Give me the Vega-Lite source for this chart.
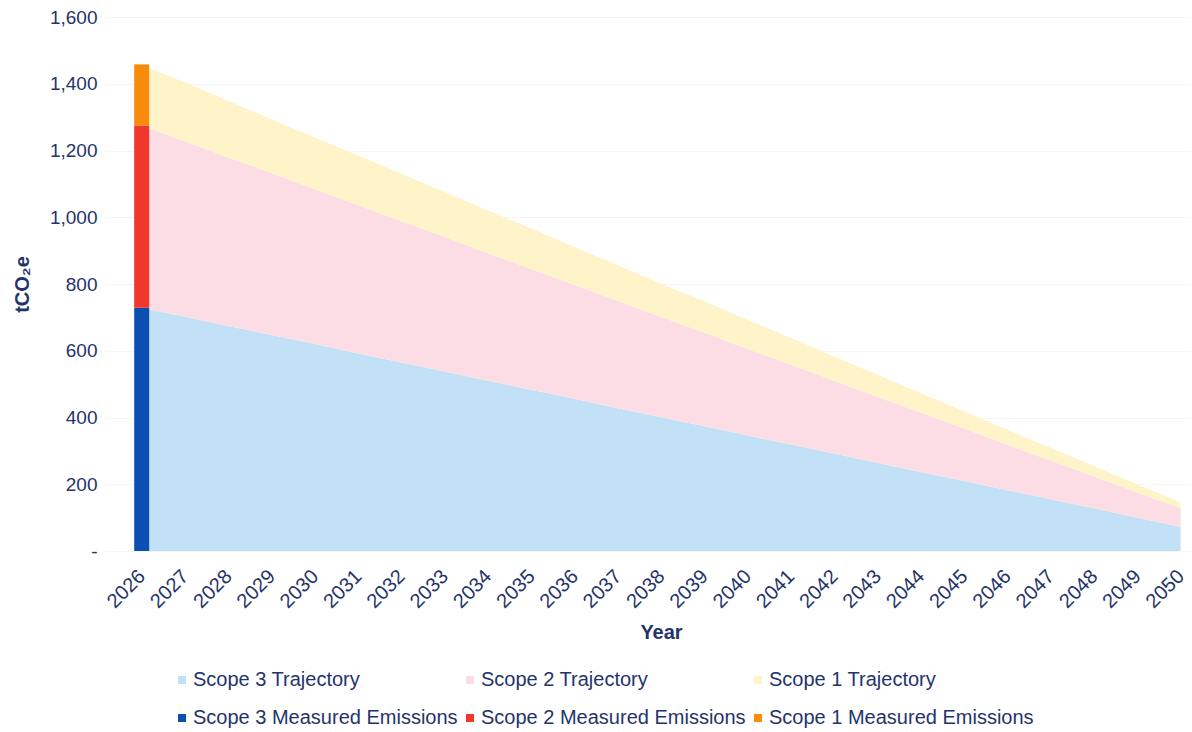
{
  "$schema": "https://vega.github.io/schema/vega-lite/v6.json",
  "autosize": {"type": "none"},
  "padding": {"left": 105, "top": 17, "right": 2, "bottom": 181},
  "width": 1085,
  "height": 534,
  "background": "white",
  "config": {
    "font": "Liberation Sans",
    "view": {"stroke": null},
    "axis": {"labelColor": "#24346a", "titleColor": "#24346a", "labelFont": "Liberation Sans", "titleFont": "Liberation Sans"},
    "legend": {"labelColor": "#24346a", "labelFont": "Liberation Sans"}
  },
  "datasets": {
    "traj": [
      {"year": 2026, "series": "Scope 3 Trajectory", "ord": 1, "value": 729},
      {"year": 2027, "series": "Scope 3 Trajectory", "ord": 1, "value": 702},
      {"year": 2028, "series": "Scope 3 Trajectory", "ord": 1, "value": 674},
      {"year": 2029, "series": "Scope 3 Trajectory", "ord": 1, "value": 647},
      {"year": 2030, "series": "Scope 3 Trajectory", "ord": 1, "value": 620},
      {"year": 2031, "series": "Scope 3 Trajectory", "ord": 1, "value": 592},
      {"year": 2032, "series": "Scope 3 Trajectory", "ord": 1, "value": 565},
      {"year": 2033, "series": "Scope 3 Trajectory", "ord": 1, "value": 538},
      {"year": 2034, "series": "Scope 3 Trajectory", "ord": 1, "value": 510},
      {"year": 2035, "series": "Scope 3 Trajectory", "ord": 1, "value": 483},
      {"year": 2036, "series": "Scope 3 Trajectory", "ord": 1, "value": 456},
      {"year": 2037, "series": "Scope 3 Trajectory", "ord": 1, "value": 428},
      {"year": 2038, "series": "Scope 3 Trajectory", "ord": 1, "value": 401},
      {"year": 2039, "series": "Scope 3 Trajectory", "ord": 1, "value": 374},
      {"year": 2040, "series": "Scope 3 Trajectory", "ord": 1, "value": 346},
      {"year": 2041, "series": "Scope 3 Trajectory", "ord": 1, "value": 319},
      {"year": 2042, "series": "Scope 3 Trajectory", "ord": 1, "value": 292},
      {"year": 2043, "series": "Scope 3 Trajectory", "ord": 1, "value": 264},
      {"year": 2044, "series": "Scope 3 Trajectory", "ord": 1, "value": 237},
      {"year": 2045, "series": "Scope 3 Trajectory", "ord": 1, "value": 210},
      {"year": 2046, "series": "Scope 3 Trajectory", "ord": 1, "value": 182},
      {"year": 2047, "series": "Scope 3 Trajectory", "ord": 1, "value": 155},
      {"year": 2048, "series": "Scope 3 Trajectory", "ord": 1, "value": 128},
      {"year": 2049, "series": "Scope 3 Trajectory", "ord": 1, "value": 100},
      {"year": 2050, "series": "Scope 3 Trajectory", "ord": 1, "value": 73},
      {"year": 2026, "series": "Scope 2 Trajectory", "ord": 2, "value": 546},
      {"year": 2027, "series": "Scope 2 Trajectory", "ord": 2, "value": 526},
      {"year": 2028, "series": "Scope 2 Trajectory", "ord": 2, "value": 505},
      {"year": 2029, "series": "Scope 2 Trajectory", "ord": 2, "value": 485},
      {"year": 2030, "series": "Scope 2 Trajectory", "ord": 2, "value": 464},
      {"year": 2031, "series": "Scope 2 Trajectory", "ord": 2, "value": 444},
      {"year": 2032, "series": "Scope 2 Trajectory", "ord": 2, "value": 423},
      {"year": 2033, "series": "Scope 2 Trajectory", "ord": 2, "value": 403},
      {"year": 2034, "series": "Scope 2 Trajectory", "ord": 2, "value": 382},
      {"year": 2035, "series": "Scope 2 Trajectory", "ord": 2, "value": 362},
      {"year": 2036, "series": "Scope 2 Trajectory", "ord": 2, "value": 341},
      {"year": 2037, "series": "Scope 2 Trajectory", "ord": 2, "value": 321},
      {"year": 2038, "series": "Scope 2 Trajectory", "ord": 2, "value": 300},
      {"year": 2039, "series": "Scope 2 Trajectory", "ord": 2, "value": 280},
      {"year": 2040, "series": "Scope 2 Trajectory", "ord": 2, "value": 259},
      {"year": 2041, "series": "Scope 2 Trajectory", "ord": 2, "value": 239},
      {"year": 2042, "series": "Scope 2 Trajectory", "ord": 2, "value": 218},
      {"year": 2043, "series": "Scope 2 Trajectory", "ord": 2, "value": 198},
      {"year": 2044, "series": "Scope 2 Trajectory", "ord": 2, "value": 177},
      {"year": 2045, "series": "Scope 2 Trajectory", "ord": 2, "value": 157},
      {"year": 2046, "series": "Scope 2 Trajectory", "ord": 2, "value": 136},
      {"year": 2047, "series": "Scope 2 Trajectory", "ord": 2, "value": 116},
      {"year": 2048, "series": "Scope 2 Trajectory", "ord": 2, "value": 95},
      {"year": 2049, "series": "Scope 2 Trajectory", "ord": 2, "value": 75},
      {"year": 2050, "series": "Scope 2 Trajectory", "ord": 2, "value": 55},
      {"year": 2026, "series": "Scope 1 Trajectory", "ord": 3, "value": 183},
      {"year": 2027, "series": "Scope 1 Trajectory", "ord": 3, "value": 176},
      {"year": 2028, "series": "Scope 1 Trajectory", "ord": 3, "value": 169},
      {"year": 2029, "series": "Scope 1 Trajectory", "ord": 3, "value": 162},
      {"year": 2030, "series": "Scope 1 Trajectory", "ord": 3, "value": 155},
      {"year": 2031, "series": "Scope 1 Trajectory", "ord": 3, "value": 149},
      {"year": 2032, "series": "Scope 1 Trajectory", "ord": 3, "value": 142},
      {"year": 2033, "series": "Scope 1 Trajectory", "ord": 3, "value": 135},
      {"year": 2034, "series": "Scope 1 Trajectory", "ord": 3, "value": 128},
      {"year": 2035, "series": "Scope 1 Trajectory", "ord": 3, "value": 121},
      {"year": 2036, "series": "Scope 1 Trajectory", "ord": 3, "value": 114},
      {"year": 2037, "series": "Scope 1 Trajectory", "ord": 3, "value": 107},
      {"year": 2038, "series": "Scope 1 Trajectory", "ord": 3, "value": 100},
      {"year": 2039, "series": "Scope 1 Trajectory", "ord": 3, "value": 94},
      {"year": 2040, "series": "Scope 1 Trajectory", "ord": 3, "value": 87},
      {"year": 2041, "series": "Scope 1 Trajectory", "ord": 3, "value": 80},
      {"year": 2042, "series": "Scope 1 Trajectory", "ord": 3, "value": 73},
      {"year": 2043, "series": "Scope 1 Trajectory", "ord": 3, "value": 66},
      {"year": 2044, "series": "Scope 1 Trajectory", "ord": 3, "value": 59},
      {"year": 2045, "series": "Scope 1 Trajectory", "ord": 3, "value": 52},
      {"year": 2046, "series": "Scope 1 Trajectory", "ord": 3, "value": 45},
      {"year": 2047, "series": "Scope 1 Trajectory", "ord": 3, "value": 38},
      {"year": 2048, "series": "Scope 1 Trajectory", "ord": 3, "value": 32},
      {"year": 2049, "series": "Scope 1 Trajectory", "ord": 3, "value": 25},
      {"year": 2050, "series": "Scope 1 Trajectory", "ord": 3, "value": 18}
    ],
    "meas": [
      {"year": 2026, "series": "Scope 3 Measured Emissions", "ord": 1, "value": 729},
      {"year": 2026, "series": "Scope 2 Measured Emissions", "ord": 2, "value": 546},
      {"year": 2026, "series": "Scope 1 Measured Emissions", "ord": 3, "value": 183}
    ]
  },
  "encoding": {
    "x": {
      "field": "year", "type": "quantitative",
      "scale": {"domain": [2025.268, 2050.102], "nice": false, "zero": false},
      "axis": {
        "title": "Year", "titleFontSize": 20, "titleFontWeight": "bold",
        "titleX": 556, "titleY": 81, "titleAlign": "center", "titleBaseline": "middle",
        "values": [2026,2027,2028,2029,2030,2031,2032,2033,2034,2035,2036,2037,2038,2039,2040,2041,2042,2043,2044,2045,2046,2047,2048,2049,2050],
        "format": "d", "labelAngle": -45, "labelFontSize": 20, "labelPadding": 22,
        "labelAlign": "right", "labelBaseline": "middle",
        "ticks": false, "domain": false, "grid": false, "labelOverlap": false, "labelFlush": false
      }
    },
    "y": {
      "field": "value", "type": "quantitative", "stack": "zero",
      "scale": {"domain": [0, 1600], "nice": false},
      "axis": {
        "title": "tCO₂e", "titleFontSize": 20, "titleFontWeight": "bold", "titleX": -73,
        "values": [0,200,400,600,800,1000,1200,1400,1600],
        "labelExpr": "datum.value == 0 ? '-' : format(datum.value, ',')",
        "labelFontSize": 19, "labelPadding": 8, "ticks": false, "domain": false,
        "grid": true, "gridColor": "#f5f5f5"
      }
    },
    "color": {
      "field": "series", "type": "nominal",
      "scale": {
        "domain": ["Scope 3 Trajectory", "Scope 2 Trajectory", "Scope 1 Trajectory", "Scope 3 Measured Emissions", "Scope 2 Measured Emissions", "Scope 1 Measured Emissions"],
        "range": ["#c2e0f6", "#fddde5", "#fff3c9", "#0b4fb3", "#f1362c", "#f68b0c"]
      },
      "legend": {
        "orient": "none", "legendX": 67, "legendY": 653, "columns": 3, "direction": "horizontal", "title": null,
        "symbolType": "square", "symbolSize": 64, "symbolOpacity": 1, "symbolStrokeWidth": 0,
        "labelFontSize": 20, "labelLimit": 400, "columnPadding": 2, "rowPadding": 18, "labelOffset": 1
      }
    },
    "order": {"field": "ord", "type": "quantitative"}
  },
  "layer": [
    {"data": {"name": "traj"}, "mark": {"type": "area", "opacity": 1}},
    {"data": {"name": "meas"}, "mark": {"type": "bar", "width": 15, "opacity": 1}}
  ]
}
